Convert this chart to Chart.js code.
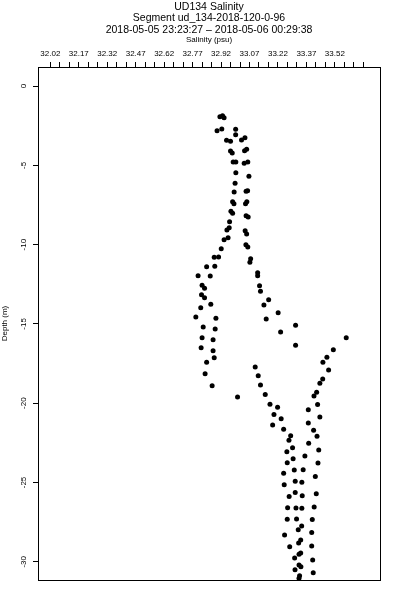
<!DOCTYPE html>
<html>
<head>
<meta charset="utf-8">
<script src="https://cdn.jsdelivr.net/npm/chart.js@4"></script>
<style>
  body { margin: 0; background: #fff; }
  #wrap { width: 400px; height: 600px; }
</style>
</head>
<body>
<div id="wrap"><canvas id="salinityChart" width="400" height="600"></canvas></div>
<script>
// Salinity profile, values
const salinity = [
  32.914, 32.928, 32.936, 32.899, 32.924, 32.997, 32.997, 32.949, 32.970, 33.028,
  33.046, 32.970, 32.979, 33.044, 33.055, 32.984, 32.998, 33.042, 33.061, 32.998,
  33.067, 32.994, 33.060, 33.052, 32.989, 32.981, 32.988, 33.056, 33.049, 32.972,
  32.981, 33.052, 33.063, 32.965, 32.963, 32.951, 33.047, 33.055, 32.936, 32.957,
  33.051, 33.061, 32.921, 32.884, 32.907, 33.076, 33.072, 32.844, 32.887, 32.799,
  32.863, 33.113, 33.113, 32.820, 32.833, 33.123, 33.128, 32.817, 32.833, 33.171,
  32.866, 33.146, 32.813, 33.221, 32.787, 32.893, 33.158, 33.313, 32.826, 32.889,
  33.234, 32.820, 32.878, 33.580, 33.313, 32.815, 33.512, 32.878, 33.478, 32.884,
  33.457, 32.844, 33.100, 33.487, 32.836, 33.116, 33.456, 33.441, 32.873, 33.128,
  33.424, 33.410, 33.007, 33.153, 33.178, 33.218, 33.380, 33.429, 33.199, 33.237,
  33.441, 33.192, 33.380, 33.250, 33.408, 33.287, 33.278, 33.426, 33.382, 33.297,
  33.267, 33.435, 33.362, 33.300, 33.269, 33.431, 33.306, 33.353, 33.250, 33.417,
  33.311, 33.346, 33.253, 33.311, 33.279, 33.348, 33.422, 33.271, 33.315, 33.346,
  33.411, 33.269, 33.318, 33.401, 33.345, 33.327, 33.255, 33.398, 33.340, 33.329,
  33.282, 33.398, 33.340, 33.331, 33.308, 33.403, 33.331, 33.341, 33.310, 33.334,
  33.331, 33.406
];
const depth = [
  -1.94, -1.87, -2.00, -2.82, -2.71, -2.73, -3.07, -3.42, -3.49, -3.40,
  -3.26, -4.10, -4.22, -4.08, -3.99, -4.79, -4.79, -4.87, -4.79, -5.47,
  -5.69, -6.13, -6.60, -6.64, -6.68, -7.29, -7.42, -7.29, -7.42, -7.90,
  -8.03, -8.18, -8.26, -8.56, -8.93, -9.08, -9.12, -9.33, -9.69, -9.56,
  -10.01, -10.15, -10.26, -10.80, -10.78, -10.89, -11.12, -11.39, -11.37, -11.96,
  -11.98, -11.77, -11.96, -12.57, -12.76, -12.59, -12.94, -13.16, -13.35, -13.47,
  -13.76, -13.81, -13.98, -14.29, -14.56, -14.65, -14.69, -15.09, -15.20, -15.32,
  -15.51, -15.87, -16.00, -15.87, -16.35, -16.50, -16.63, -16.69, -17.11, -17.13,
  -17.42, -17.42, -17.72, -17.91, -18.14, -18.27, -18.47, -18.74, -18.90, -18.85,
  -19.31, -19.55, -19.61, -19.46, -20.07, -20.26, -20.41, -20.09, -20.72, -20.98,
  -20.87, -21.37, -21.25, -21.65, -21.71, -22.05, -22.34, -22.09, -22.53, -22.81,
  -23.06, -22.95, -23.33, -23.50, -23.75, -23.77, -24.21, -24.19, -24.42, -24.63,
  -24.92, -24.99, -25.14, -25.64, -25.89, -25.83, -25.71, -26.59, -26.61, -26.63,
  -26.54, -27.32, -27.30, -27.34, -27.74, -27.98, -28.31, -28.16, -28.62, -28.81,
  -29.05, -29.00, -29.44, -29.53, -29.76, -29.89, -30.20, -30.31, -30.50, -30.88,
  -31.04, -30.70
];

// axis ticks
const xTicks = [
  32.02, 32.07, 32.12, 32.17, 32.22, 32.27, 32.32, 32.37, 32.42, 32.47, 32.52, 32.57,
  32.62, 32.67, 32.72, 32.77, 32.82, 32.87, 32.92, 32.97, 33.02, 33.07, 33.12, 33.17,
  33.22, 33.27, 33.32, 33.37, 33.42, 33.47, 33.52, 33.57, 33.62, 33.67
];
const xTickLabels = ['32.02', '32.17', '32.32', '32.47', '32.62', '32.77', '32.92', '33.07', '33.22', '33.37', '33.52'];
const yTicks = [0, -5, -10, -15, -20, -25, -30];

const titleLines = [
  'UD134 Salinity',
  'Segment ud_134-2018-120-0-96',
  '2018-05-05 23:23:27 \u2013 2018-05-06 00:29:38'
];

Chart.defaults.font.family = "'Liberation Sans', Arial, sans-serif";
Chart.defaults.color = '#000';

const points = salinity.map((s, i) => ({ x: s, y: depth[i] }));

// white page + frame around the plot area
const boxPlugin = {
  id: 'box',
  beforeDraw(chart) {
    const ctx = chart.ctx;
    ctx.save();
    ctx.fillStyle = '#fff';
    ctx.fillRect(0, 0, chart.width, chart.height);
    ctx.restore();
  },
  afterDraw(chart) {
    const a = chart.chartArea;
    const ctx = chart.ctx;
    ctx.save();
    ctx.strokeStyle = '#000';
    ctx.lineWidth = 1;
    ctx.strokeRect(Math.round(a.left) + 0.5, Math.round(a.top) + 0.5,
      Math.round(a.right - a.left), Math.round(a.bottom - a.top));
    ctx.restore();
  }
};

let stx = document.getElementById('salinityChart').getContext('2d');

let salinityChart = new Chart(stx, {
  type: 'scatter',
  data: {
    datasets: [{
      data: points,
      backgroundColor: '#000',
      borderWidth: 0,
      pointStyle: 'circle',
      pointRadius: 2.5,
      pointHoverRadius: 2.5,
    }]
  },
  plugins: [boxPlugin],
  options: {
    responsive: false,
    animation: false,
    events: [],
    layout: {
      padding: { left: 0, right: 20, top: 0, bottom: 20 }
    },
    plugins: {
      legend: { display: false },
      tooltip: { enabled: false },
      title: {
        display: true,
        fullSize: false, // centre over the plot box, not the page
        text: titleLines,
        color: '#000',
        font: { size: 10.5, weight: 'normal', lineHeight: '11.5px' },
        padding: { top: 1.25, bottom: 0 },
      },
    },
    scales: {
      x: {
        type: 'linear',
        position: 'top',
        min: 31.955,
        max: 33.758,
        afterBuildTicks: (scale) => {
          scale.ticks = xTicks.map(v => ({ value: v }));
        },
        afterFit: (scale) => { scale.height = 31.25; },
        grid: {
          display: true,
          drawOnChartArea: false,
          color: '#000',
          tickLength: 5,
        },
        border: { display: false },
        ticks: {
          autoSkip: false,
          maxRotation: 0,
          minRotation: 0,
          padding: 3,
          font: { size: 8 },
          callback: (value) => {
            const s = Number(value).toFixed(2);
            return xTickLabels.includes(s) ? s : '';
          }
        },
        title: {
          display: true,
          text: 'Salinity (psu)',
          font: { size: 8, lineHeight: 1 },
          padding: { top: 0, bottom: 0 },
        }
      },
      y: {
        type: 'linear',
        position: 'left',
        min: -31.15,
        max: 1.2,
        afterBuildTicks: (scale) => {
          scale.ticks = yTicks.map(v => ({ value: v }));
        },
        afterFit: (scale) => { scale.width = 38; },
        grid: {
          display: true,
          drawOnChartArea: false,
          color: '#000',
          tickLength: 5,
        },
        border: { display: false },
        ticks: {
          minRotation: 90,
          maxRotation: 90,
          crossAlign: 'center',
          padding: 3,
          font: { size: 8 },
        },
        title: {
          display: true,
          text: 'Depth (m)',
          font: { size: 8, lineHeight: 1 },
          padding: { top: 1, bottom: 0 },
        }
      }
    }
  }
});
</script>
</body>
</html>
